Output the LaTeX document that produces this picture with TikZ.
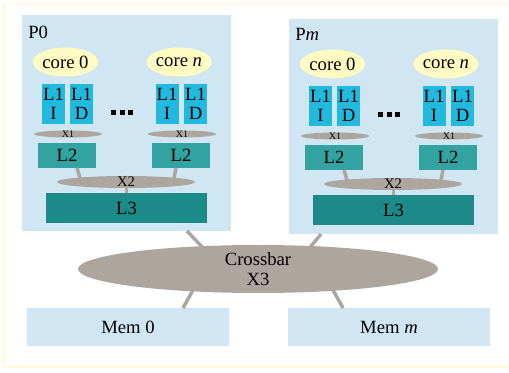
\documentclass[tikz,border=0pt]{standalone}
\usepackage{fontspec}
\setmainfont{Liberation Serif}
\usetikzlibrary{shapes.geometric}
\definecolor{pbox}{HTML}{D0E6F3}
\definecolor{coreY}{HTML}{FFFBC2}
\definecolor{lone}{HTML}{22B9DF}
\definecolor{ltwo}{HTML}{33A3A1}
\definecolor{lthree}{HTML}{1B8A88}
\definecolor{xgray}{HTML}{ADA69F}
\definecolor{frameY}{HTML}{FFFBD8}
\tikzset{
  corenode/.style={ellipse, fill=coreY, draw=none, minimum width=63*0.75pt, minimum height=29*0.75pt, inner sep=0pt, font=\fontsize{14}{15}\selectfont},
  l1box/.style={fill=lone, draw=none, minimum width=23*0.75pt, minimum height=40*0.75pt, inner sep=0pt, align=center, font=\fontsize{14}{14}\selectfont},
  l2box/.style={fill=ltwo, draw=none, minimum width=58*0.75pt, minimum height=25*0.75pt, inner sep=0pt, font=\fontsize{14}{15}\selectfont},
  l3box/.style={fill=lthree, draw=none, minimum width=161*0.75pt, minimum height=30*0.75pt, inner sep=0pt, font=\fontsize{14}{15}\selectfont},
  xone/.style={ellipse, fill=xgray, draw=none, minimum width=68*0.75pt, minimum height=7*0.75pt, inner sep=0pt},
  xtwo/.style={ellipse, fill=xgray, draw=none, minimum width=138*0.75pt, minimum height=12*0.75pt, inner sep=0pt},
  memb/.style={fill=pbox, draw=none, minimum width=202*0.75pt, minimum height=38*0.75pt, inner sep=0pt, font=\fontsize{14}{15}\selectfont},
  link/.style={xgray, line width=3.5*0.75pt},
  lbl/.style={inner sep=0pt, font=\fontsize{14}{15}\selectfont},
}
\begin{document}
\begin{tikzpicture}[x=0.75pt, y=-0.75pt]
\useasboundingbox (0,0) rectangle (509,373);
\draw[frameY, line width=1.2pt] (509,3.5) -- (4,3.5) -- (4,367) -- (509,367);

% processor boxes
\fill[pbox] (22,15) rectangle (231,231);
\fill[pbox] (289,19) rectangle (498,234);
\node[lbl, anchor=west] (p0) at (28,32) {P0};
\node[lbl, anchor=west] (pm) at (295,34) {P\textit{m}};

\foreach \dx/\dy/\nm in {0/0/a, 267/2/b}{
  \begin{scope}[shift={(\dx,\dy)}]
    \node[corenode] (\nm c0) at (65.5,62) {core 0};
    \node[corenode] (\nm cn) at (179,62) {core \textit{n}};
    \node[l1box] (\nm li0) at (53.5,104) {L1\\I};
    \node[l1box] (\nm ld0) at (81.5,104) {L1\\D};
    \node[l1box] (\nm lin) at (167,104) {L1\\I};
    \node[l1box] (\nm ldn) at (195.5,104) {L1\\D};
    \node[inner sep=0pt] (\nm dots) at (122,113) {\tikz[x=0.75pt,y=-0.75pt]{\fill (0,0) rectangle (5,5); \fill (8.5,0) rectangle (13.5,5); \fill (17,0) rectangle (22,5);}};
    \node[xone] (\nm xa) at (68,134) {};
    \node[xone] (\nm xb) at (182,134) {};
    \node[inner sep=0pt, font=\fontsize{7.5}{7.5}\selectfont] at (68,134) {X1};
    \node[inner sep=0pt, font=\fontsize{7.5}{7.5}\selectfont] at (182,134) {X1};
    \node[l2box] (\nm l2a) at (67,155.5) {L2};
    \node[l2box] (\nm l2b) at (181,155.5) {L2};
    \node[l3box] (\nm l3) at (126.5,208) {L3};
    \coordinate (\nm la1) at (77,168);
    \coordinate (\nm la2) at (80,178);
    \coordinate (\nm lb1) at (176,168);
    \coordinate (\nm lb2) at (174,178);
    \draw[link] (\nm la1) -- (\nm la2);
    \draw[link] (\nm lb1) -- (\nm lb2);
    \draw[link] (126.5,182) -- (\nm l3.north);
    \node[xtwo] (\nm x2) at (126,182) {};
    \node[inner sep=0pt, font=\fontsize{11}{11}\selectfont] (\nm x2t) at (126,182) {X2};
  \end{scope}
}

% crossbar + memories
\node[memb] (m0) at (128,327) {Mem 0};
\node[memb] (mm) at (389,327) {Mem \textit{m}};
\coordinate (p0c) at (187,231);
\coordinate (pmc) at (321,234);
\coordinate (x3a) at (205,250);
\coordinate (x3b) at (308,250);
\coordinate (x3c) at (193,290);
\coordinate (x3d) at (333,290);
\coordinate (m0t) at (183,308);
\coordinate (mmt) at (343,308);
\draw[link] (p0c) -- (x3a);
\draw[link] (pmc) -- (x3b);
\draw[link] (x3c) -- (m0t);
\draw[link] (x3d) -- (mmt);
\node[ellipse, fill=xgray, draw=none, minimum width=360*0.75pt, minimum height=48*0.75pt, inner sep=0pt, align=center, font=\fontsize{14}{15}\selectfont] (x3) at (258,269) {Crossbar\\X3};
\end{tikzpicture}
\end{document}
